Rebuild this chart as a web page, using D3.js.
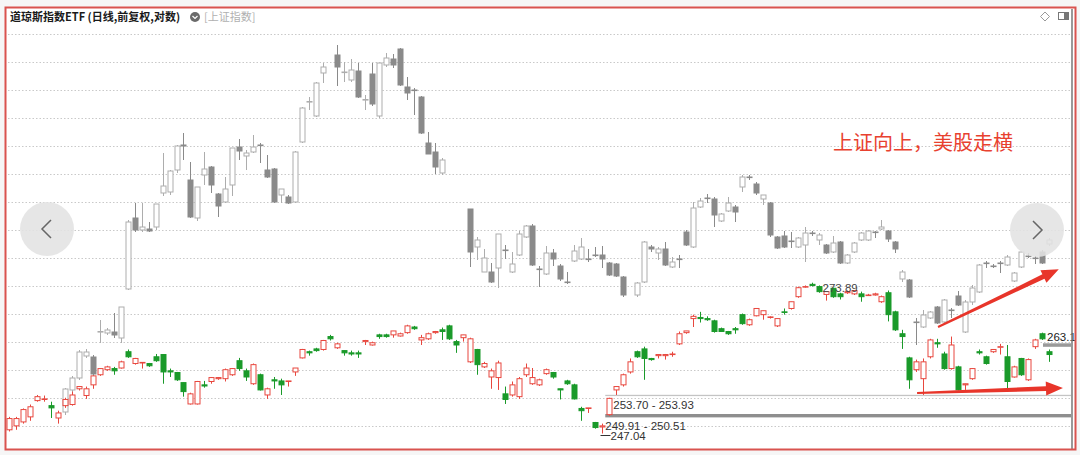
<!DOCTYPE html>
<html><head><meta charset="utf-8">
<script src="https://cdn.jsdelivr.net/npm/d3@7"></script>
<style>html,body{margin:0;padding:0;background:#fff;}svg{display:block;}</style>
</head><body><svg id="chart" width="1080" height="455"></svg>
<script>
// ---- 道琼斯指数ETF daily candles (price) ----
const etfOpen = [
247.7,248.4,249.1,250.0,252.9,253.1,252.0,249.8,252.0,252.2,
255.0,253.8,255.7,257.5,258.4,258.6,258.7,261.6,259.5,259.6,
259.5,260.7,261.1,258.2,257.9,256.1,252.3,252.3,255.7,256.3,
256.8,256.8,257.5,260.0,258.2,255.9,257.5,253.9,256.6,256.4,
256.3,258.0,260.5,261.6,262.1,262.0,264.3,262.3,261.8,261.4,
261.4,263.4,262.8,264.6,264.6,264.6,264.4,265.0,266.0,263.7,
263.9,265.0,265.5,266.2,263.4,264.1,259.8,262.0,258.9,257.1,
257.0,254.1,253.9,253.6,257.5,255.9,255.7,257.7,257.9,255.0,
256.4,255.7,251.5,251.5,249.0,248.2,250.4,254.8,255.7,258.0,
261.6,262.1,260.4,260.9,260.9,261.1,263.0,265.0,267.5,267.7,
267.5,267.1,265.7,265.2,265.7,268.2,266.4,268.0,268.2,267.7,
266.2,268.7,269.3,271.4,273.1,273.6,273.2,271.8,272.9,271.9,
272.1,271.9,271.9,271.6,271.7,270.5,272.1,268.7,264.8,260.5,
258.4,256.8,260.7,263.2,261.2,258.6,258.9,255.7,256.8,261.6,
260.7,261.6,262.4,260.7,257.1,260.4,256.6,262.5,264.8,261.6];
const etfHigh = [
250.0,250.0,251.5,252.2,253.9,253.8,252.7,251.1,253.4,254.5,
255.5,255.4,257.3,258.7,259.1,258.9,260.0,262.0,260.5,259.7,
259.6,261.2,261.1,258.6,258.0,256.1,254.3,256.4,256.4,257.1,
257.1,258.6,258.7,260.5,258.6,259.5,257.7,255.2,257.1,256.8,
256.4,258.7,262.1,261.8,262.3,263.7,264.6,263.2,261.8,261.8,
261.8,263.7,263.4,264.8,264.8,265.3,265.0,266.4,266.2,264.6,
265.0,265.3,265.9,266.4,263.7,264.6,264.1,262.1,259.8,258.6,
260.0,255.4,256.3,257.1,259.5,258.7,256.8,258.6,258.0,255.0,
256.6,255.9,251.8,251.6,249.1,248.8,253.4,255.4,257.7,260.4,
261.8,262.5,260.5,261.1,261.2,261.6,265.2,265.3,268.2,268.7,
267.9,267.3,265.9,265.3,266.0,268.4,267.5,269.3,268.9,267.9,
267.5,269.3,270.5,273.2,273.4,273.89,273.4,272.3,273.0,272.1,
272.5,272.6,272.3,271.9,272.1,271.6,272.5,268.9,265.5,260.7,
260.2,260.4,263.9,263.9,261.6,264.3,259.1,255.9,258.7,262.0,
260.9,262.0,263.0,262.8,259.1,260.5,260.4,263.9,265.0,262.0];
const etfLow = [
247.4,247.7,248.8,249.3,252.7,252.7,249.8,248.8,251.6,252.0,
254.7,253.2,255.0,257.3,258.2,257.5,258.6,260.5,259.3,258.6,
258.9,259.8,255.9,257.1,256.4,253.6,252.2,252.2,255.2,255.9,
256.6,256.3,257.3,258.2,256.4,255.7,254.7,253.2,255.0,253.9,
255.4,257.3,260.4,260.9,261.6,261.8,263.6,262.1,260.9,260.9,
260.5,262.8,262.7,263.9,264.1,264.1,264.3,264.8,265.5,262.8,
263.7,264.8,263.7,263.7,261.4,263.4,259.6,257.5,258.7,255.0,
254.8,252.3,253.6,253.2,257.1,255.7,255.5,257.5,256.8,253.1,
255.7,253.1,249.3,250.7,247.9,247.04,250.2,253.9,255.4,257.7,
260.5,256.6,260.0,260.4,260.2,260.7,262.8,264.8,266.0,266.8,
267.1,265.0,265.2,264.6,264.8,266.4,266.2,267.9,267.3,267.5,
266.0,268.2,269.1,271.2,273.0,273.2,272.1,270.7,271.2,270.9,
271.9,271.7,270.5,271.6,271.6,270.3,267.0,265.3,262.1,255.0,
258.0,253.9,260.4,262.3,258.4,258.4,254.7,254.8,256.6,261.1,
259.3,261.4,261.1,255.0,257.0,257.3,256.4,262.1,263.7,259.8];
const etfClose = [
249.7,249.7,251.3,251.8,253.6,253.2,251.6,250.7,253.1,253.9,
255.4,255.0,257.3,258.6,258.9,258.2,259.8,260.7,260.4,259.7,
259.1,260.0,258.0,258.0,256.6,254.5,254.1,256.3,255.5,257.0,
257.0,258.4,258.6,258.6,257.1,259.3,254.8,255.0,256.4,255.7,
256.4,258.7,262.0,261.4,261.8,263.6,263.9,263.0,261.4,261.2,
261.2,263.6,263.2,264.3,264.3,265.3,264.8,266.2,265.7,264.1,
264.8,265.2,265.2,263.9,262.8,264.6,263.9,259.3,259.5,258.2,
259.6,253.1,255.7,256.8,258.7,257.0,256.6,258.4,257.1,254.8,
255.9,253.2,251.1,251.6,248.1,248.4,253.3,255.4,257.5,259.8,
260.7,260.4,260.2,261.1,261.1,261.2,264.8,265.3,267.9,267.5,
267.3,265.2,265.2,264.8,265.5,266.6,267.3,269.3,268.9,267.8,
267.5,268.6,270.5,273.0,273.2,273.4,272.3,272.3,271.4,271.4,
272.3,272.5,271.4,271.7,271.9,271.4,268.2,265.5,264.3,256.6,
259.8,259.8,263.7,263.0,258.6,262.8,254.8,255.9,258.6,261.4,
259.5,262.0,262.5,256.3,258.9,257.5,260.2,263.7,263.9,261.1];

// ---- 上证指数 overlay candles (index points), null = no trading ----
const shOpen = [
null,null,null,null,null,null,null,null,2556,2600,
2624,2668,2666,2716,2714,2716,2704,2802,2944,2920,
2922,2926,2994,2996,3040,3090,3020,2944,3030,3046,
2992,2976,3010,3086,3068,3076,3090,3040,3042,2990,
2986,2976,3096,3176,3148,3234,null,3270,3236,3220,
3238,3180,3232,3148,3250,3262,3282,3206,3200,3186,
3094,3076,3034,null,null,null,2962,2886,2836,2836,
2844,2880,2836,2870,2906,2928,2842,2832,2874,2848,
2816,2858,2862,2862,2870,2870,2854,2852,2826,null,
2790,2816,2886,2874,2882,2846,2862,2916,2886,2966,
2984,2982,2938,2958,2966,3006,3026,3012,2982,2974,
2906,2908,2898,2886,2890,2914,2900,2890,2876,2896,
2854,2876,2900,2900,2916,2922,2918,2896,2822,2820,
2736,2726,2744,2766,2736,2760,2788,2716,2776,2796,
2854,2848,2854,2850,2818,2846,2868,2864,2876,2892];
const shHigh = [
null,null,null,null,null,null,null,null,2604,2628,
2680,2682,2670,2740,2724,2754,2766,2940,2974,2974,
2936,2972,3074,3040,3090,3114,3056,3006,3076,3048,
2994,3026,3084,3102,3080,3110,3094,3070,3044,3002,
2990,3078,3166,3186,3216,3254,null,3290,3256,3262,
3254,3190,3254,3254,3274,3272,3284,3226,3204,3188,
3116,3094,3064,null,null,null,2962,2906,2882,2854,
2912,2890,2876,2918,2930,2932,2848,2888,2882,2852,
2836,2890,2904,2882,2886,2888,2856,2854,2828,null,
2816,2898,2890,2886,2896,2866,2870,2920,2976,2984,
2992,2986,2954,2986,2970,3030,3030,3016,2990,2976,
2908,2918,2916,2906,2926,2918,2914,2892,2908,2898,
2872,2896,2916,2920,2918,2940,2920,2898,2840,2822,
2744,2760,2758,2768,2782,2764,2798,2780,2810,2852,
2858,2852,2858,2870,2836,2878,2874,2868,2880,2904];
const shLow = [
null,null,null,null,null,null,null,null,2550,2596,
2620,2664,2628,2694,2710,2704,2694,2800,2916,2916,
2916,2920,2988,2990,3034,3060,2944,2938,3010,2994,
2946,2974,2988,3060,3040,3074,3054,3024,2974,2974,
2972,2974,3094,3160,3146,3214,null,3208,3216,3216,
3184,3160,3168,3144,3246,3244,3208,3180,3150,3112,
3072,3032,3030,null,null,null,2846,2860,2836,2814,
2804,2862,2834,2868,2904,2848,2806,2830,2848,2818,
2812,2856,2860,2856,2866,2844,2828,2826,2786,null,
2786,2814,2876,2860,2848,2844,2844,2888,2884,2964,
2974,2926,2936,2956,2936,2996,3020,2990,2970,2906,
2882,2884,2884,2884,2856,2908,2890,2872,2874,2852,
2852,2874,2898,2898,2904,2920,2896,2874,2816,2784,
2690,2724,2742,2732,2734,2744,2768,2714,2770,2794,
2844,2844,2834,2848,2816,2844,2864,2852,2852,2888];
const shClose = [
null,null,null,null,null,null,null,null,2602,2624,
2676,2676,2632,2717,2720,2710,2766,2936,2920,2926,
2918,2972,3008,3038,3088,3088,2946,3006,3042,3010,
2968,3002,3084,3078,3074,3086,3089,3026,2976,3002,
2974,3076,3164,3177,3214,3246,null,3246,3236,3240,
3186,3181,3172,3254,3264,3250,3210,3194,3199,3114,
3072,3046,3060,null,null,null,2876,2900,2864,2816,
2912,2879,2852,2912,2928,2850,2841,2874,2862,2822,
2815,2878,2886,2861,2869,2862,2830,2828,2790,null,
2814,2896,2882,2882,2850,2856,2861,2890,2964,2978,
2983,2950,2952,2974,2956,3026,3025,2994,2990,2910,
2884,2886,2897,2904,2914,2913,2910,2874,2894,2854,
2870,2894,2914,2918,2915,2926,2902,2882,2836,2786,
2735,2750,2756,2734,2780,2759,2770,2776,2804,2850,
2853,2847,2853,2866,2834,2876,2867,2863,2854,2900];

// grid levels (overlay index points), price bands and markers
const gridLevels = [3312,3256,3200,3144,3088,3032,2976,2920,2864,2808,2752,2696,2640,2584,2528];
const bands = [{from:253.70, to:253.93, start:86, label:"253.70 - 253.93", color:"#c4c4c4"},
               {from:249.91, to:250.51, start:86, label:"249.91 - 250.51", color:"#8e8e8e"}];
const lowMark = {i:85, value:247.04};
const highMark = {i:115, value:273.89};
const lastPrice = 263.1;
const arrows = [{i0:133.1, p0:266.0, i1:150.4, p1:276.3},
                {i0:130.1, p0:254.25, i1:151.0, p1:255.14}];
const titleText = "道琼斯指数ETF (日线,前复权,对数)";
const overlayText = "[上证指数]";
const noteText = "上证向上，美股走横";

const N = etfOpen.length;
const days = d3.range(N);
const svg = d3.select('#chart');
const x = d3.scaleLinear().domain([0, N - 1]).range([9, 1049]);
const px = i => Math.round(x(i)) + 0.5;
const yE = d3.scaleLinear().domain([247.04, 273.89]).range([433.5, 282.7]);
const yS = d3.scaleLinear().domain([2480, 3380]).range([450, 0]);
const NUM = "'Liberation Sans', Arial, sans-serif";
const CJK = "'Noto Sans CJK SC', 'Noto Sans', sans-serif";

// background + inner
svg.append('rect').attr('width', 1080).attr('height', 455).attr('fill', '#f6f6f6');
svg.append('rect').attr('x', 6).attr('y', 8).attr('width', 1069).attr('height', 441).attr('fill', '#fff');

// grid
svg.append('g').selectAll('line').data(gridLevels).join('line')
  .attr('x1', 8).attr('x2', 1071)
  .attr('y1', d => Math.round(yS(d)) + 0.5).attr('y2', d => Math.round(yS(d)) + 0.5)
  .attr('stroke', '#c9c9c9').attr('stroke-width', 1).attr('stroke-dasharray', '1.5,2');

function drawCandles(O, H, L, C, y, upStroke, upFill, dnColor, wickUp, wickDn) {
  const data = days.filter(i => O[i] != null).map(i => ({i, o: O[i], h: H[i], l: L[i], c: C[i]}));
  const g = svg.append('g');
  const cg = g.selectAll('g').data(data).join('g');
  cg.append('line')
    .attr('x1', d => px(d.i)).attr('x2', d => px(d.i))
    .attr('y1', d => y(d.h)).attr('y2', d => y(d.l))
    .attr('stroke', d => d.c >= d.o ? wickUp : wickDn).attr('stroke-width', 1);
  cg.append('rect')
    .attr('x', d => px(d.i) - 2.5).attr('width', 5)
    .attr('y', d => Math.min(y(d.o), y(d.c)))
    .attr('height', d => Math.max(Math.abs(y(d.o) - y(d.c)), 0.6))
    .attr('fill', d => d.c >= d.o ? upFill : dnColor)
    .attr('stroke', d => d.c >= d.o ? upStroke : dnColor).attr('stroke-width', 1);
}

// overlay (gray) first
drawCandles(shOpen, shHigh, shLow, shClose, yS, '#adadad', '#ffffff', '#8a8a8a', '#adadad', '#8a8a8a');

// bands
bands.forEach(b => {
  svg.append('rect').attr('x', x(b.start) - 4).attr('width', 1071 - (x(b.start) - 4))
    .attr('y', yE(b.to)).attr('height', Math.max(yE(b.from) - yE(b.to), 1.2))
    .attr('fill', b.color);
});

// main candles
drawCandles(etfOpen, etfHigh, etfLow, etfClose, yE, '#e8473e', '#ffffff', '#1a9a2a', '#e8473e', '#1a9a2a');

// band labels
svg.append('text').attr('x', x(bands[0].start) + 4).attr('y', yE(bands[0].from) + 13)
  .text(bands[0].label).attr('font-family', NUM).attr('font-size', 11.5).attr('fill', '#333');
svg.append('text').attr('x', x(bands[1].start) - 4).attr('y', yE(bands[1].from) + 12.5)
  .text(bands[1].label).attr('font-family', NUM).attr('font-size', 11.5).attr('fill', '#333');
// low marker
const lx = px(lowMark.i), ly = yE(lowMark.value);
svg.append('line').attr('x1', lx - 2).attr('x2', lx + 8).attr('y1', ly + 2).attr('y2', ly + 2).attr('stroke', '#333');
svg.append('text').attr('x', lx + 8).attr('y', ly + 6.5).text(lowMark.value.toFixed(2))
  .attr('font-family', NUM).attr('font-size', 11.5).attr('fill', '#333');
// high marker
const hx = px(highMark.i), hy = yE(highMark.value);
svg.append('text').attr('x', hx + 10).attr('y', hy + 9).text(highMark.value.toFixed(2))
  .attr('font-family', NUM).attr('font-size', 11.5).attr('fill', '#444');
// last price
svg.append('rect').attr('x', 1043).attr('width', 28).attr('y', yE(lastPrice)).attr('height', 3.5).attr('fill', '#9a9a9a');
svg.append('text').attr('x', 1047).attr('y', yE(lastPrice) - 2).text(lastPrice)
  .attr('font-family', NUM).attr('font-size', 11.5).attr('fill', '#222');

// red annotation
svg.append('text').attr('x', 833).attr('y', 150).text(noteText)
  .attr('font-family', CJK).attr('font-size', 20).attr('fill', '#e8412f');
const arrowG = svg.append('g');
arrows.forEach(a => {
  const sx = x(a.i0), sy = yE(a.p0), tx = x(a.i1), ty = yE(a.p1);
  const dx = tx - sx, dy = ty - sy, len = Math.hypot(dx, dy);
  const ux = dx / len, uy = dy / len, nx = -uy, ny = ux;
  const hl = 17, hw = 7, bx = tx - ux * hl, by = ty - uy * hl;
  const pts = [[sx + nx * 1, sy + ny * 1], [bx + nx * 2.4, by + ny * 2.4], [bx + nx * hw, by + ny * hw],
               [tx, ty], [bx - nx * hw, by - ny * hw], [bx - nx * 2.4, by - ny * 2.4], [sx - nx * 1, sy - ny * 1]];
  arrowG.append('polygon').attr('points', pts.map(p => p.join(',')).join(' ')).attr('fill', '#e8352a');
});

// nav circles
[{cx: 47, cy: 229, dir: -1}, {cx: 1037, cy: 230, dir: 1}].forEach(c => {
  svg.append('circle').attr('cx', c.cx).attr('cy', c.cy).attr('r', 27).attr('fill', '#e2e2e2').attr('opacity', 0.88);
  svg.append('path').attr('d', `M${c.cx - c.dir * 4},${c.cy - 9} L${c.cx + c.dir * 5},${c.cy} L${c.cx - c.dir * 4},${c.cy + 9}`)
    .attr('fill', 'none').attr('stroke', '#666').attr('stroke-width', 1.5);
});

// title
svg.append('text').attr('x', 10).attr('y', 21).text(titleText)
  .attr('font-family', CJK).attr('font-size', 11).attr('font-weight', 'bold').attr('fill', '#1a1a1a');
svg.append('circle').attr('cx', 195).attr('cy', 17).attr('r', 5).attr('fill', '#6a6a6a');
svg.append('path').attr('d', 'M192.5,16 L195,18.5 L197.5,16').attr('fill', 'none').attr('stroke', '#fff').attr('stroke-width', 1.2);
svg.append('text').attr('x', 204).attr('y', 21).text(overlayText)
  .attr('font-family', CJK).attr('font-size', 11).attr('fill', '#b0b0b0');
// top right icons
svg.append('path').attr('d', 'M1045,12 L1049.5,16.5 L1045,21 L1040.5,16.5 Z').attr('fill', 'none').attr('stroke', '#999');
svg.append('rect').attr('x', 1058.5).attr('y', 12.5).attr('width', 10).attr('height', 7).attr('fill', 'none').attr('stroke', '#777');
svg.append('rect').attr('x', 1064).attr('y', 12.5).attr('width', 4.5).attr('height', 7).attr('fill', '#777');

// frame
svg.append('line').attr('x1', 1072).attr('x2', 1072).attr('y1', 9).attr('y2', 449).attr('stroke', '#777').attr('stroke-width', 1.5);
svg.append('rect').attr('x', 5.5).attr('y', 7.5).attr('width', 1070).attr('height', 442)
  .attr('fill', 'none').attr('stroke', '#d9534f').attr('stroke-width', 2);
</script></body></html>
